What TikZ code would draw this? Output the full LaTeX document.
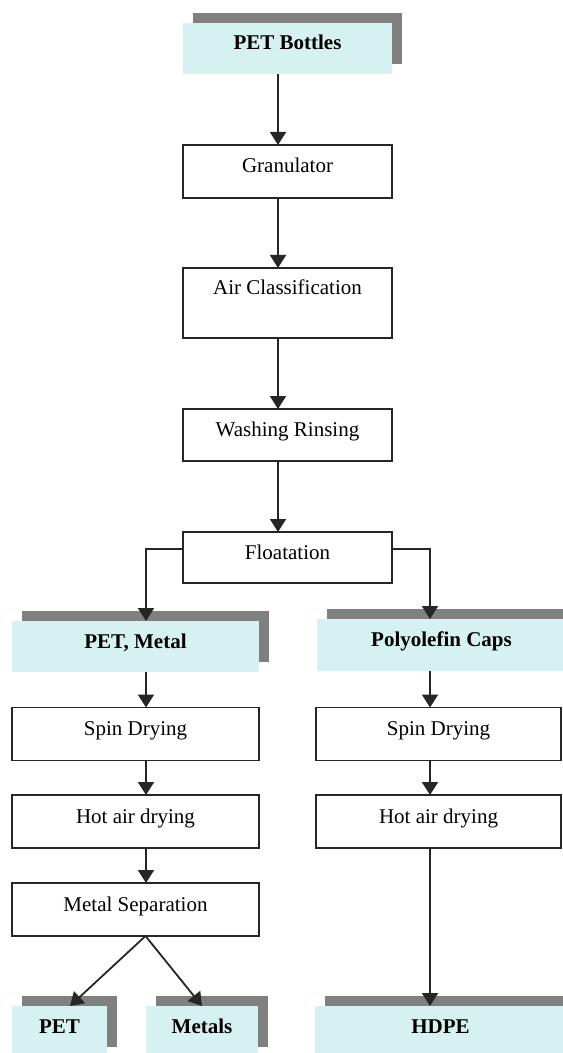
\documentclass[tikz,border=0pt]{standalone}
\usepackage{fontspec}
\setmainfont{Liberation Serif}
\usetikzlibrary{arrows.meta,shadows}
\definecolor{capfill}{HTML}{D6F2F0}
\definecolor{shadegray}{HTML}{808080}
\definecolor{linegray}{HTML}{262626}

\begin{document}
\begin{tikzpicture}[x=0.5pt,y=-0.5pt,
    every node/.style={font=\fontsize{10.5}{12.6}\selectfont, inner sep=0pt, outer sep=0pt,
      text height=8pt, text depth=6.5pt},
    proc/.style={draw=linegray, line width=0.9pt, fill=white, minimum height=26.5pt},
    stock/.style={fill=capfill, font=\fontsize{10.5}{12.6}\selectfont\bfseries, minimum height=25.5pt,
      drop shadow={shadow xshift=5pt, shadow yshift=5pt, fill=shadegray, opacity=1}},
    flow/.style={-{Triangle[width=8pt,length=6.5pt]}, line width=0.9pt, draw=linegray}]
  \useasboundingbox (0,0) rectangle (562,1053);
  % main line
  \node[stock, minimum width=104.5pt] (bottles) at (287.5,48.5) {PET Bottles};
  \node[proc, minimum width=104.5pt] (gran) at (287.5,171.5) {Granulator};
  \node[proc, minimum width=104.5pt, minimum height=35pt, text depth=16pt] (aircl) at (287.5,303) {Air Classification};
  \node[proc, minimum width=104.5pt, minimum height=26pt] (wash) at (287.5,435) {Washing Rinsing};
  \node[proc, minimum width=104.5pt, minimum height=25.5pt] (float) at (287.5,557.5) {Floatation};
  % sinking fraction
  \node[stock, minimum width=123.5pt] (petmetal) at (135.5,646.5) {PET, Metal};
  \node[proc, minimum width=123.5pt] (spinl) at (135.5,734) {Spin Drying};
  \node[proc, minimum width=123.5pt] (hotl) at (135.5,821.5) {Hot air drying};
  \node[proc, minimum width=123.5pt] (metsep) at (135.5,909.5) {Metal Separation};
  \node[stock, minimum width=47.5pt] (pet) at (59.5,1031.5) {PET};
  \node[stock, minimum width=56pt] (metals) at (202,1031.5) {Metals};
  % floating fraction
  \node[stock, minimum width=124.5pt, minimum height=26pt] (caps) at (441.5,645) {Polyolefin Caps};
  \node[proc, minimum width=122.5pt] (spinr) at (438.5,734) {Spin Drying};
  \node[proc, minimum width=122.5pt] (hotr) at (438.5,821.5) {Hot air drying};
  \node[stock, minimum width=125.5pt] (hdpe) at (440.5,1031.5) {HDPE};

  \draw[flow] ([xshift=-4.75pt]bottles.south) -- ([xshift=-4.75pt]gran.north);
  \draw[flow] ([xshift=-4.75pt]gran.south) -- ([xshift=-4.75pt]aircl.north);
  \draw[flow] ([xshift=-4.75pt]aircl.south) -- ([xshift=-4.75pt]wash.north);
  \draw[flow] ([xshift=-4.75pt]wash.south) -- ([xshift=-4.75pt]float.north);
  \draw[flow] ([yshift=4.25pt]float.west) -| ([xshift=5.25pt]petmetal.north);
  \draw[flow] ([yshift=4.25pt]float.east) -| ([xshift=-5.75pt]caps.north);
  \draw[flow] ([xshift=5.25pt]petmetal.south) -- ([xshift=5.25pt]spinl.north);
  \draw[flow] ([xshift=5.25pt]spinl.south) -- ([xshift=5.25pt]hotl.north);
  \draw[flow] ([xshift=5.25pt]hotl.south) -- ([xshift=5.25pt]metsep.north);
  \draw[flow] ([xshift=5pt]metsep.south) -- ([xshift=5.25pt]pet.north);
  \draw[flow] ([xshift=5pt]metsep.south) -- (metals.north);
  \draw[flow] ([xshift=-5.75pt]caps.south) -- ([xshift=-4.25pt]spinr.north);
  \draw[flow] ([xshift=-4.25pt]spinr.south) -- ([xshift=-4.25pt]hotr.north);
  \draw[flow] ([xshift=-4.25pt]hotr.south) -- ([xshift=-5.25pt]hdpe.north);
\end{tikzpicture}
\end{document}
